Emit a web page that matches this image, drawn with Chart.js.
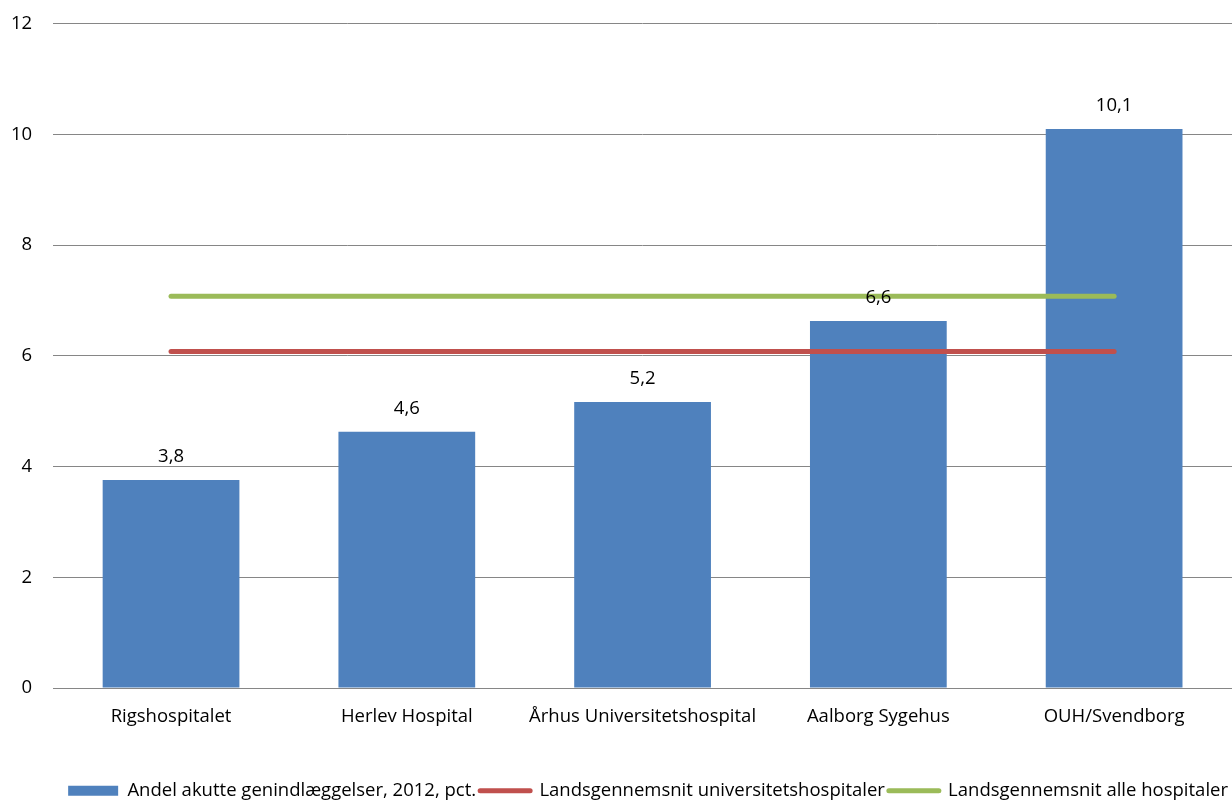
<!DOCTYPE html>
<html>
<head>
<meta charset="utf-8">
<script src="https://cdn.jsdelivr.net/npm/chart.js@4"></script>
<style>
  html, body { margin: 0; padding: 0; background: #fff; }
  #wrap { width: 1232px; height: 800px; }
</style>
</head>
<body>
<div id="wrap"><canvas id="chart"></canvas></div>
<script>
// Data
const hospitals = ['Rigshospitalet', 'Herlev Hospital', 'Århus Universitetshospital', 'Aalborg Sygehus', 'OUH/Svendborg'];
const readmissions = [3.76, 4.63, 5.17, 6.63, 10.1];
const avgUniversity = [6.08, 6.08, 6.08, 6.08, 6.08];
const avgAll = [7.08, 7.08, 7.08, 7.08, 7.08];
const yTicks = [0, 2, 4, 6, 8, 10, 12];

const FONT = 'Open Sans';
const FSIZE = 18.5;

// Value labels above bars, Danish decimal comma
const barLabels = {
    id: 'barLabels',
    afterDatasetsDraw(chart) {
        const ctx = chart.ctx;
        const meta = chart.getDatasetMeta(2);
        ctx.save();
        ctx.font = FSIZE + 'px "' + FONT + '"';
        ctx.fillStyle = '#000';
        ctx.textAlign = 'center';
        ctx.textBaseline = 'middle';
        meta.data.forEach((bar, i) => {
            const txt = readmissions[i].toFixed(1).replace('.', ',');
            ctx.fillText(txt, bar.x, bar.y - 23);
        });
        ctx.restore();
    }
};

const ctx = document.getElementById('chart').getContext('2d');
const chart = new Chart(ctx, {
    type: 'bar',
    data: {
        labels: hospitals,
        datasets: [
            {
                type: 'line',
                label: 'Landsgennemsnit universitetshospitaler',
                data: avgUniversity,
                borderColor: '#C0504D',
                backgroundColor: '#C0504D',
                borderWidth: 5,
                pointRadius: 0,
                borderCapStyle: 'round',
                order: 1
            },
            {
                type: 'line',
                label: 'Landsgennemsnit alle hospitaler',
                data: avgAll,
                borderColor: '#9BBB59',
                backgroundColor: '#9BBB59',
                borderWidth: 5,
                pointRadius: 0,
                borderCapStyle: 'round',
                order: 1
            },
            {
                label: 'Andel akutte genindlæggelser, 2012, pct.',
                data: readmissions,
                backgroundColor: '#4F81BD',
                categoryPercentage: 1,
                barPercentage: 0.58,
                order: 2
            }
        ]
    },
    options: {
        responsive: true,
        maintainAspectRatio: false,
        animation: false,
        layout: { padding: { top: 22, right: 0, left: -10, bottom: -10 } },
        plugins: {
            legend: {
                position: 'bottom',
                align: 'end',
                // empty title used as spacer between axis labels and legend
                title: { display: true, text: ' ', font: { size: 1 }, padding: { top: 0, bottom: 30 } },
                labels: {
                    usePointStyle: true,
                    boxHeight: 10,
                    pointStyleWidth: 50,
                    padding: 4,
                    color: '#000',
                    font: { family: FONT, size: FSIZE },
                    generateLabels(chart) {
                        const order = [2, 0, 1];
                        return order.map(i => {
                            const ds = chart.data.datasets[i];
                            const isLine = ds.type === 'line';
                            return {
                                text: ds.label,
                                datasetIndex: i,
                                fillStyle: ds.backgroundColor,
                                strokeStyle: isLine ? ds.borderColor : ds.backgroundColor,
                                lineWidth: isLine ? 5 : 0,
                                lineCap: 'round',
                                pointStyle: isLine ? 'line' : 'rect',
                                fontColor: '#000'
                            };
                        });
                    }
                }
            },
            tooltip: { enabled: false }
        },
        scales: {
            x: {
                grid: { display: false, drawTicks: false },
                border: { display: true, color: '#868686', width: 1 },
                ticks: {
                    color: '#000',
                    padding: 18,
                    maxRotation: 0,
                    autoSkip: false,
                    font: { family: FONT, size: FSIZE }
                }
            },
            y: {
                min: 0,
                max: 12,
                afterBuildTicks(axis) {
                    axis.ticks = yTicks.map(v => ({ value: v }));
                },
                grid: { color: '#868686', lineWidth: 1, drawTicks: false },
                border: { display: false },
                ticks: {
                    color: '#000',
                    padding: 21,
                    font: { family: FONT, size: FSIZE, lineHeight: 0.3 }
                }
            }
        }
    },
    plugins: [barLabels]
});
</script>
</body>
</html>
